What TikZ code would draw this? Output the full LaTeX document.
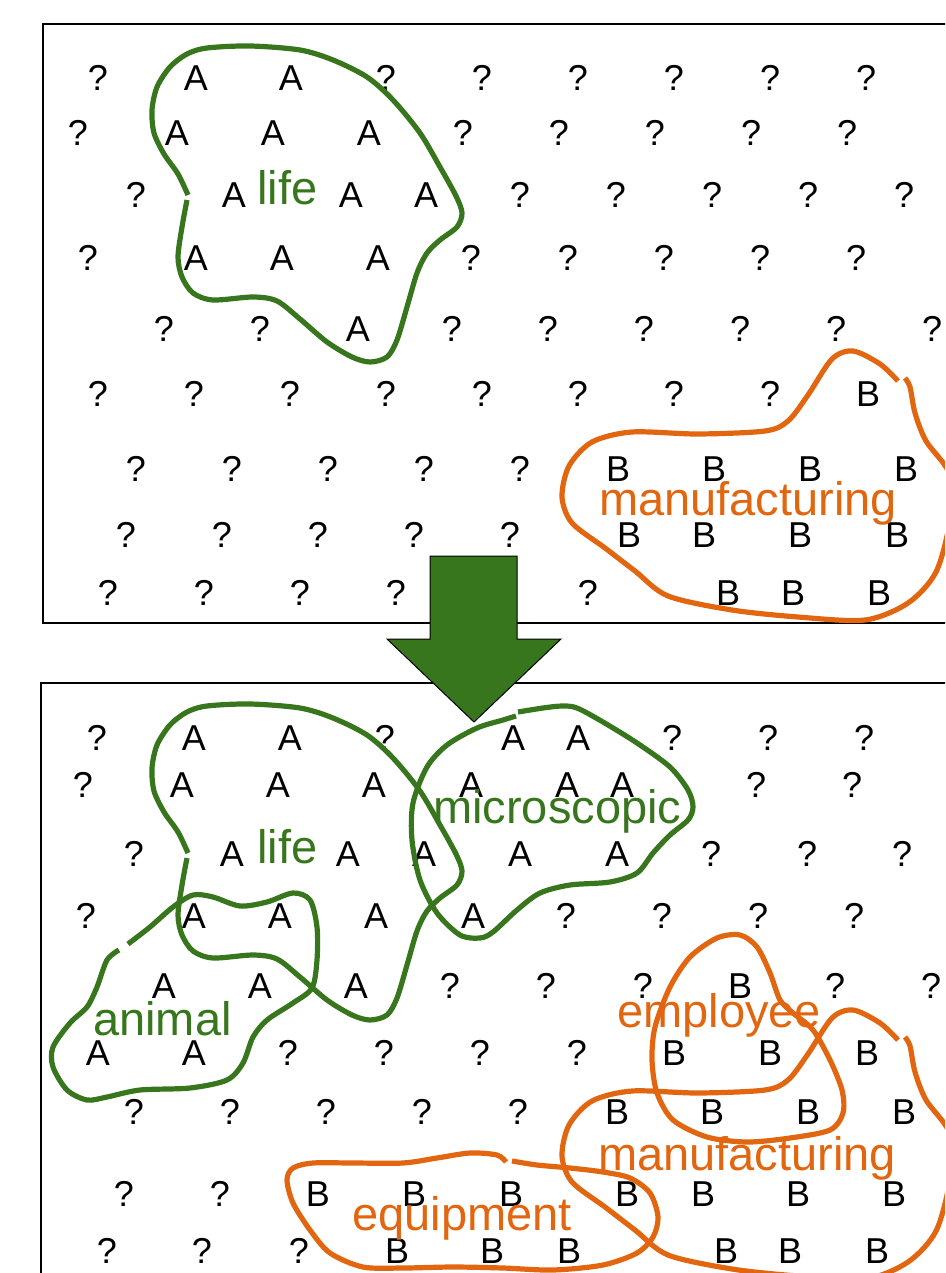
\documentclass[tikz,border=0pt]{standalone}
\usepackage{fontspec}
\setmainfont{Liberation Sans}
\definecolor{leaf}{HTML}{38761D}
\definecolor{rust}{HTML}{E1660F}

% one row of letters: prefix, baseline, list of x/letter pairs
\newcommand\glyphrow[3]{%
  \foreach \x/\c in {#3} {\node[glyph] (#1-\x) at (\x,#2) {\c};}}

\begin{document}
\begin{tikzpicture}[x=1pt,y=-1pt,
  glyph/.style={font=\fontsize{36}{36}\selectfont, anchor=base, inner sep=0pt},
  tag/.style={font=\fontsize{47}{47}\selectfont, anchor=base west, inner sep=0pt},
  greentag/.style={tag, text=leaf},
  orangetag/.style={tag, text=rust},
  frame/.style={draw=black, line width=1.5pt},
  greenloop/.style={draw=leaf, line width=5.2pt},
  orangeloop/.style={draw=rust, line width=5.2pt},
  downarrow/.style={fill=leaf, draw=black, line width=1pt, line join=miter},
  lifeloop/.pic={\draw[greenloop] plot[smooth] coordinates {
    (188,195) (178,174) (164,154) (154,133) (152,110) (157,87) (170,67)
    (187,54) (207,48) (250,46) (300,50) (333,60) (367,77) (393,100)
    (420,133) (440,167) (456,196) (462,213) (457,227) (440,240) (427,253)
    (417,273) (407,307) (397,340) (387,357) (370,362) (352,357) (327,342)
    (300,319) (277,301) (253,297) (213,300) (193,293) (182,277) (178,257)
    (182,227) (187,200)};},
  mfgloop/.pic={\draw[orangeloop] plot[smooth] coordinates {
    (898,381) (880,364) (853,351) (832,359) (808,395) (788,421) (765,431)
    (698,434) (632,432) (592,442) (569,466) (562,497) (572,523) (605,548)
    (635,571) (668,596) (732,610) (798,617) (865,620) (908,603) (936,572)
    (950,520) (950,475) (926,441) (915,413) (910,387) (905,378)};}]

\useasboundingbox (0,0) rectangle (945,1273);
\clip (0,0) rectangle (945,1273);

% ---------- upper panel ----------
\draw[frame] (43,24) rectangle (1000,623);
\glyphrow{ta}{91}{98/?,196/A,291/A,386/?,482/?,578/?,674/?,770/?,866/?}
\glyphrow{tb}{146}{78/?,177/A,273/A,369/A,463/?,559/?,655/?,751/?,847/?}
\glyphrow{tc}{208}{136/?,234/A,351/A,426/A,520/?,616/?,712/?,808/?,904/?}
\glyphrow{td}{270}{88/?,196/A,282/A,378/A,471/?,568/?,664/?,760/?,856/?}
\glyphrow{te}{341}{164/?,260/?,358/A,452/?,548/?,644/?,740/?,836/?,932/?}
\glyphrow{tf}{406}{98/?,194/?,290/?,386/?,482/?,578/?,674/?,770/?,868/B}
\glyphrow{tg}{481}{136/?,232/?,328/?,424/?,520/?,618/B,714/B,810/B,906/B}
\glyphrow{th}{547}{126/?,222/?,318/?,414/?,510/?,629/B,704/B,800/B,897/B}
\glyphrow{ti}{605}{108/?,204/?,300/?,396/?,588/?,728/B,793/B,879/B}

\node[greentag] (lifeTop) at (257,205) {life};
\node[orangetag] (mfgTop) at (599,515) {manufacturing};

\pic at (0,0) {lifeloop};
\pic at (0,0) {mfgloop};

% ---------- lower panel ----------
\draw[frame] (41,683) rectangle (1000,1400);
\glyphrow{ba}{750}{97/?,194/A,290/A,385/?,513/A,578/A,672/?,768/?,864/?}
\glyphrow{bb}{797}{83/?,182/A,278/A,374/A,471/A,567/A,622/A,756/?,852/?}
\glyphrow{bc}{866}{134/?,232/A,348/A,424/A,520/A,617/A,711/?,807/?,902/?}
\glyphrow{bd}{928}{86/?,194/A,280/A,376/A,473/A,566/?,662/?,758/?,854/?}
\glyphrow{be}{998}{164/A,260/A,356/A,450/?,546/?,643/?,740/B,835/?,931/?}
\glyphrow{bf}{1065}{98/A,194/A,288/?,384/?,480/?,577/?,674/B,770/B,867/B}
\glyphrow{bg}{1124}{134/?,230/?,326/?,422/?,518/?,617/B,712/B,808/B,904/B}
\glyphrow{bh}{1206}{124/?,220/?,318/B,414/B,511/B,627/B,703/B,798/B,894/B}
\glyphrow{bi}{1263}{107/?,202/?,299/?,397/B,492/B,569/B,726/B,790/B,877/B}

\node[greentag] (lifeBot) at (257,863) {life};
\node[greentag] (micro) at (433,823) {microscopic};
\node[greentag] (animal) at (93,1035) {animal};
\node[orangetag] (employee) at (617,1027) {employee};
\node[orangetag] (mfgBot) at (598,1170) {manufacturing};
\node[orangetag] (equip) at (352,1230) {equipment};

\pic at (0,658) {lifeloop};
\pic at (0,659) {mfgloop};

% microscopic
\draw[greenloop] plot[smooth] coordinates {
  (518,712) (543,708) (562,706) (577,708) (603,722) (637,743) (670,767)
  (688,790) (693,807) (688,820) (670,835) (653,853) (637,873) (610,882)
  (570,885) (540,893) (517,910) (493,932) (480,938) (460,935) (437,913)
  (420,880) (412,840) (413,803) (427,767) (447,745) (477,728) (503,720)
  (516,716)};

% animal
\draw[greenloop] plot[smooth] coordinates {
  (128,944) (150,927) (173,907) (193,895) (213,897) (240,906) (267,902)
  (293,893) (310,900) (317,927) (317,960) (312,988) (293,1003) (267,1020)
  (253,1037) (243,1063) (227,1080) (190,1088) (140,1090) (107,1097)
  (87,1100) (67,1090) (53,1067) (53,1047) (70,1023) (87,1007) (97,987)
  (107,960) (119,950)};

% employee
\draw[orangeloop] plot[smooth cycle] coordinates {
  (740,935) (757,947) (770,973) (780,1000) (793,1013) (813,1030)
  (830,1060) (842,1090) (843,1113) (830,1130) (790,1138) (747,1142)
  (707,1137) (673,1120) (657,1093) (652,1060) (655,1027) (670,987)
  (690,957) (717,938)};

% equipment
\draw[orangeloop] plot[smooth] coordinates {
  (512,1161) (537,1165) (570,1168) (603,1172) (630,1178) (650,1193)
  (658,1217) (653,1237) (637,1253) (603,1265) (553,1270) (503,1268)
  (453,1267) (403,1268) (363,1267) (330,1253) (310,1230) (293,1203)
  (287,1180) (293,1168) (313,1163) (353,1163) (403,1163) (437,1158)
  (470,1153) (497,1155) (506,1162)};

% ---------- arrow between the panels ----------
\draw[downarrow] (430,556) -- (517,556) -- (517,639) -- (561,639)
  -- (474,722) -- (387,639) -- (430,639) -- cycle;

\end{tikzpicture}
\end{document}
